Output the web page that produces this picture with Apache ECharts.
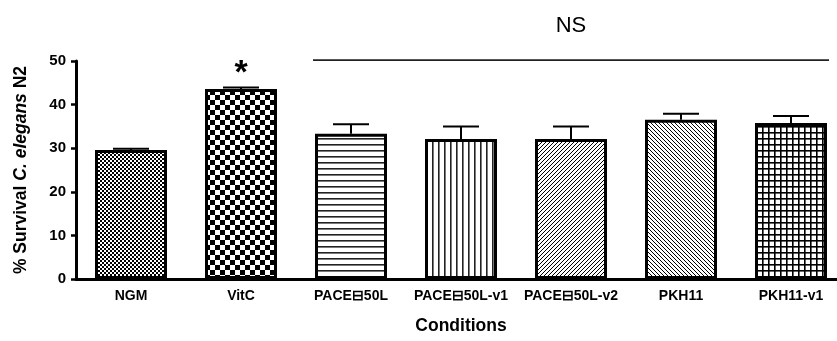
<!DOCTYPE html>
<html>
<head>
<meta charset="utf-8">
<script src="https://cdn.jsdelivr.net/npm/echarts@6/dist/echarts.min.js"></script>
<style>
html,body{margin:0;padding:0;background:#fff;}
#chart{width:837px;height:341px;}
</style>
</head>
<body>
<div id="chart"></div>
<script>
// ---- data ----
const categories = ['NGM', 'VitC', 'PACE\u229F50L', 'PACE\u229F50L-v1', 'PACE\u229F50L-v2', 'PKH11', 'PKH11-v1'];
const meanValues = [29.6, 43.6, 33.3, 32.1, 32.1, 36.5, 35.8];
const errorTops = [29.9, 43.9, 35.5, 35.0, 35.0, 37.9, 37.4];
const yTicks = [0, 10, 20, 30, 40, 50];
const starCategory = 'VitC';
const starLevel = 47.2;
const nsStart = 'PACE\u229F50L';
const nsEnd = 'PKH11-v1';
const nsLevel = 50.2;
const nsTextLevel = 58.0;

// ---- patterns (style only) ----
function pat(w, h, draw) {
  const c = document.createElement('canvas');
  c.width = w; c.height = h;
  const g = c.getContext('2d');
  g.fillStyle = '#fff'; g.fillRect(0, 0, w, h);
  g.fillStyle = '#000'; g.strokeStyle = '#000';
  draw(g, w, h);
  return { image: c, repeat: 'repeat' };
}
const patterns = [
  pat(4, 4, g => { g.fillRect(0,0,2,2); g.fillRect(2,2,2,2); }),
  pat(10, 10, g => { g.fillRect(0,0,5,5); g.fillRect(5,5,5,5); }),
  pat(6, 6, g => { g.fillStyle = '#222'; g.fillRect(0,0,6,1.6); }),
  pat(6, 6, g => { g.fillStyle = '#222'; g.fillRect(0,0,1.6,6); }),
  pat(4, 4, g => { g.lineWidth = 1; g.beginPath(); g.moveTo(-1,5); g.lineTo(5,-1); g.moveTo(-1,1); g.lineTo(1,-1); g.moveTo(3,5); g.lineTo(5,3); g.stroke(); }),
  pat(4, 4, g => { g.lineWidth = 1; g.beginPath(); g.moveTo(-1,-1); g.lineTo(5,5); g.moveTo(3,-1); g.lineTo(5,1); g.moveTo(-1,3); g.lineTo(1,5); g.stroke(); }),
  pat(6, 6, g => { g.fillRect(0,0,6,1.6); g.fillRect(0,0,1.6,6); })
];

const BAR_W = 72;
const FONT = '"Liberation Sans", Arial, sans-serif';

const chart = echarts.init(document.getElementById('chart'), null, { renderer: 'canvas' });
chart.setOption({
  animation: false,
  backgroundColor: '#fff',
  grid: { left: 76, top: 61, bottom: 62, right: -9, containLabel: false, outerBoundsMode: 'none' },
  xAxis: {
    type: 'category',
    data: categories,
    name: 'Conditions',
    nameLocation: 'middle',
    nameGap: 38,
    nameTextStyle: { fontFamily: FONT, fontWeight: 'bold', fontSize: 17.5, color: '#000' },
    axisLine: { lineStyle: { color: '#000', width: 3 } },
    axisTick: { alignWithLabel: true, interval: 0, length: 5, lineStyle: { color: '#000', width: 2.5 } },
    axisLabel: { interval: 0, margin: 10, fontFamily: FONT, fontWeight: 'bold', fontSize: 14, color: '#000' },
    splitLine: { show: false }
  },
  yAxis: {
    type: 'value',
    min: yTicks[0], max: yTicks[yTicks.length - 1], interval: 10,
    name: '{n|% Survival }{i|C. elegans}{n| N2}',
    nameLocation: 'middle',
    nameGap: 46,
    nameTextStyle: {
      rich: {
        n: { fontFamily: FONT, fontWeight: 'bold', fontSize: 17.5, color: '#000' },
        i: { fontFamily: FONT, fontWeight: 'bold', fontStyle: 'italic', fontSize: 17.5, color: '#000' }
      }
    },
    axisLine: { show: true, lineStyle: { color: '#000', width: 3 } },
    axisTick: { show: true, length: 5, lineStyle: { color: '#000', width: 2.5 } },
    axisLabel: { margin: 10, fontFamily: FONT, fontWeight: 'bold', fontSize: 15, color: '#000',
      formatter: v => yTicks.indexOf(v) >= 0 ? String(v) : '' },
    splitLine: { show: false }
  },
  series: [
    {
      type: 'bar',
      barWidth: BAR_W,
      z: 2,
      data: meanValues.map((v, i) => ({
        value: v,
        itemStyle: { color: patterns[i], borderColor: '#000', borderWidth: 3 }
      }))
    },
    {
      type: 'custom',
      z: 3,
      clip: false,
      data: meanValues.map((v, i) => [i, v, errorTops[i]]),
      renderItem: (params, api) => {
        const p0 = api.coord([api.value(0), api.value(1)]);
        const p1 = api.coord([api.value(0), api.value(2)]);
        const hw = 18;
        return {
          type: 'group',
          children: [
            { type: 'line', shape: { x1: p0[0], y1: p0[1], x2: p1[0], y2: p1[1] }, style: { stroke: '#000', lineWidth: 2 } },
            { type: 'line', shape: { x1: p1[0] - hw, y1: p1[1], x2: p1[0] + hw, y2: p1[1] }, style: { stroke: '#000', lineWidth: 2 } }
          ]
        };
      }
    },
    {
      type: 'custom',
      z: 4,
      clip: false,
      data: [[starCategory, starLevel]],
      renderItem: (params, api) => {
        const p = api.coord([api.value(0), api.value(1)]);
        return { type: 'text', x: p[0], y: p[1],
          style: { text: '*', fontFamily: FONT, fontWeight: 'bold', fontSize: 34, fill: '#000', align: 'center', verticalAlign: 'middle' } };
      }
    },
    {
      type: 'custom',
      z: 4,
      clip: false,
      data: [[nsStart, nsEnd, nsLevel, nsTextLevel]],
      renderItem: (params, api) => {
        const a = api.coord([categories.indexOf(nsStart), nsLevel]);
        const b = api.coord([categories.indexOf(nsEnd), nsLevel]);
        const t = api.coord([(categories.indexOf(nsStart) + categories.indexOf(nsEnd)) / 2, nsTextLevel]);
        const half = BAR_W / 2 + 2;
        return {
          type: 'group',
          children: [
            { type: 'line', shape: { x1: a[0] - half, y1: a[1], x2: b[0] + half, y2: b[1] }, style: { stroke: '#222', lineWidth: 1.6 } },
            { type: 'text', x: t[0], y: t[1], style: { text: 'NS', fontFamily: '"Liberation Sans Narrow", "Liberation Sans", sans-serif', fontSize: 22, fill: '#000', align: 'center', verticalAlign: 'middle' } }
          ]
        };
      }
    }
  ]
});
</script>
</body>
</html>
